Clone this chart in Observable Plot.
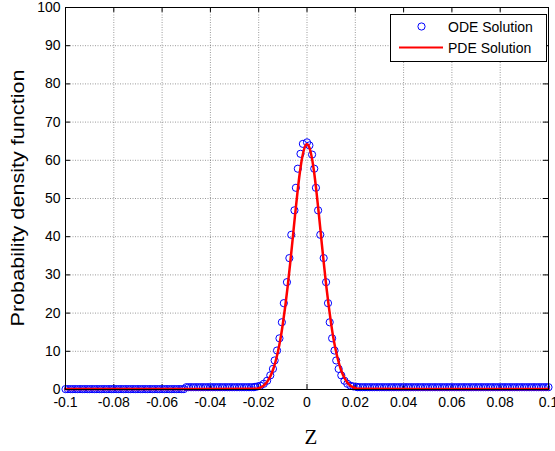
<!DOCTYPE html>
<html><head><meta charset="utf-8">
<script src="https://cdn.jsdelivr.net/npm/d3@7"></script>
<script src="https://cdn.jsdelivr.net/npm/@observablehq/plot@0.6"></script>
<style>body{margin:0;background:#fff} #chart{width:555px;height:451px}</style>
</head><body><div id="chart"></div>
<script>
// Tick values
const xTicks = [-0.1, -0.08, -0.06, -0.04, -0.02, 0, 0.02, 0.04, 0.06, 0.08, 0.1];
const yTicks = [0, 10, 20, 30, 40, 50, 60, 70, 80, 90, 100];

// ODE solution (circles): z positions and density values
const odeZ = [
  -0.100,-0.099,-0.098,-0.097,-0.096,-0.095,-0.094,-0.093,-0.092,-0.091,
  -0.090,-0.089,-0.088,-0.087,-0.086,-0.085,-0.084,-0.083,-0.082,-0.081,
  -0.080,-0.079,-0.078,-0.077,-0.076,-0.075,-0.074,-0.073,-0.072,-0.071,
  -0.070,-0.069,-0.068,-0.067,-0.066,-0.065,-0.064,-0.063,-0.062,-0.061,
  -0.060,-0.059,-0.058,-0.057,-0.056,-0.055,-0.054,-0.053,-0.052,-0.051,
  -0.050,-0.049,-0.048,-0.047,-0.046,-0.045,-0.044,-0.043,-0.042,-0.041,
  -0.040,-0.039,-0.038,-0.037,-0.036,-0.035,-0.034,-0.033,-0.032,-0.031,
  -0.030,-0.029,-0.028,-0.027,-0.026,-0.025,-0.024,-0.023,-0.022,
  -0.0215,-0.0205,-0.0193,-0.0179,-0.0165,-0.0152,-0.0141,-0.0134,-0.0124,-0.0114,
  -0.0104,-0.0096,-0.0083,-0.0073,-0.0065,-0.0052,-0.0046,-0.0038,-0.0027,-0.0017,
  0.0000,
  0.0010,0.0021,0.0030,0.0037,0.0046,0.0055,0.0069,0.0079,0.0087,0.0094,
  0.0104,0.0114,0.0121,0.0131,0.0142,0.0155,0.0167,0.0180,0.0192,0.0205,
  0.021,0.022,0.023,0.024,0.025,0.026,0.027,0.028,0.029,0.030,
  0.031,0.032,0.033,0.034,0.035,0.036,0.037,0.038,0.039,0.040,
  0.041,0.042,0.043,0.044,0.045,0.046,0.047,0.048,0.049,0.050,
  0.051,0.052,0.053,0.054,0.055,0.056,0.057,0.058,0.059,0.060,
  0.061,0.062,0.063,0.064,0.065,0.066,0.067,0.068,0.069,0.070,
  0.071,0.072,0.073,0.074,0.075,0.076,0.077,0.078,0.079,0.080,
  0.081,0.082,0.083,0.084,0.085,0.086,0.087,0.088,0.089,0.090,
  0.091,0.092,0.093,0.094,0.095,0.096,0.097,0.098,0.099,0.100
];
const odeY = [
  0.1,0.1,0.1,0.1,0.1,0.1,0.1,0.1,0.1,0.1,
  0.1,0.1,0.1,0.1,0.1,0.1,0.1,0.1,0.1,0.1,
  0.1,0.1,0.1,0.1,0.1,0.1,0.1,0.1,0.1,0.1,
  0.1,0.1,0.1,0.1,0.1,0.1,0.1,0.1,0.1,0.1,
  0.1,0.1,0.1,0.1,0.1,0.1,0.1,0.1,0.1,0.1,
  0.6,0.6,0.6,0.6,0.6,0.6,0.6,0.6,0.6,0.6,
  0.6,0.6,0.6,0.6,0.6,0.6,0.6,0.6,0.6,0.6,
  0.6,0.6,0.6,0.6,0.6,0.6,0.6,0.6,0.6,
  0.7,0.8,1.0,1.5,2.3,3.7,5.4,7.6,10.2,13.4,
  17.6,22.6,28.1,34.4,40.5,46.9,52.8,57.8,61.7,64.3,
  64.7,
  63.9,61.5,57.8,52.8,46.9,40.5,34.4,28.1,22.6,17.6,
  13.4,10.2,7.6,5.4,3.7,2.3,1.5,1.0,0.8,0.7,
  0.6,0.6,0.6,0.6,0.6,0.6,0.6,0.6,0.6,0.6,
  0.6,0.6,0.6,0.6,0.6,0.6,0.6,0.6,0.6,0.6,
  0.6,0.6,0.6,0.6,0.6,0.6,0.6,0.6,0.6,0.6,
  0.6,0.6,0.6,0.6,0.6,0.6,0.6,0.6,0.6,0.6,
  0.6,0.6,0.6,0.6,0.6,0.6,0.6,0.6,0.6,0.6,
  0.6,0.6,0.6,0.6,0.6,0.6,0.6,0.6,0.6,0.6,
  0.6,0.6,0.6,0.6,0.6,0.6,0.6,0.6,0.6,0.6,
  0.6,0.6,0.6,0.6,0.6,0.6,0.6,0.6,0.6,0.6
];

// PDE solution (line)
const pdeZ = [-0.1,-0.05,-0.022,-0.020,-0.019,-0.018,-0.017,-0.016,-0.015,-0.014,-0.013,-0.012,-0.011,-0.010,
  -0.009,-0.008,-0.007,-0.006,-0.005,-0.004,-0.003,-0.002,-0.001,0,
  0.001,0.002,0.003,0.004,0.005,0.006,0.007,0.008,0.009,0.010,0.011,0.012,0.013,0.014,0.015,0.016,
  0.017,0.018,0.019,0.020,0.022,0.05,0.1];
const pdeY = [0.15,0.15,0.2,0.35,0.6,1.0,1.6,2.5,3.7,5.3,7.4,10.0,13.2,17.2,
  21.8,27.0,32.8,39.0,45.3,51.3,56.6,60.7,63.3,64.2,
  63.3,60.7,56.6,51.3,45.3,39.0,32.8,27.0,21.8,17.2,13.2,10.0,7.4,5.3,3.7,2.5,
  1.6,1.0,0.6,0.35,0.2,0.15,0.15];

const seriesNames = ["ODE Solution", "PDE Solution"];
const xLabel = "Z";
const yLabel = "Probability density function";

const ode = odeZ.map((z, i) => ({z, y: odeY[i]}));
const pde = pdeZ.map((z, i) => ({z, y: pdeY[i]}));
const fmt = d => String(+d.toFixed(2));

const gridStyle = {stroke: "#000", strokeOpacity: 0.5, strokeDasharray: "1,1.5", strokeWidth: 0.8};

const chart = Plot.plot({
  width: 555, height: 451,
  marginLeft: 65, marginRight: 7, marginTop: 7, marginBottom: 62,
  style: {fontFamily: "'Liberation Sans', Arial, sans-serif", fontSize: "14px", background: "#fff", color: "#000", overflow: "visible"},
  x: {domain: [-0.1, 0.1]},
  y: {domain: [0, 100]},
  marks: [
    Plot.gridX(xTicks, gridStyle),
    Plot.gridY(yTicks, gridStyle),
    Plot.ruleX(xTicks, {x: d => d, y1: 0, y2: 1.3, stroke: "#000"}),
    Plot.ruleX(xTicks, {x: d => d, y1: 98.7, y2: 100, stroke: "#000"}),
    Plot.ruleY(yTicks, {y: d => d, x1: -0.1, x2: -0.0979, stroke: "#000"}),
    Plot.ruleY(yTicks, {y: d => d, x1: 0.0979, x2: 0.1, stroke: "#000"}),
    Plot.axisX(xTicks, {tickSize: 0, tickPadding: 8, tickFormat: fmt, label: null, fontSize: 14}),
    Plot.axisY(yTicks, {tickSize: 0, tickPadding: 5, label: null, fontSize: 14}),
    Plot.dot(ode, {x: "z", y: "y", r: 3.6, stroke: "#0000ff", strokeWidth: 1, fill: "none"}),
    Plot.line(pde, {x: "z", y: "y", stroke: "#ff0000", strokeWidth: 2.5, curve: "monotone-x"}),
    Plot.frame({stroke: "#000", strokeWidth: 1})
  ]
});
document.getElementById("chart").appendChild(chart);

const svg = d3.select(chart);
// Axis titles
svg.append("text").attr("x", 311).attr("y", 437)
  .attr("text-anchor", "middle").attr("dominant-baseline", "central")
  .attr("font-family", "'Liberation Serif', 'Times New Roman', serif").attr("font-size", 21)
  .attr("fill", "#000").text(xLabel);
svg.append("text").attr("transform", "translate(18,198) rotate(-90)")
  .attr("text-anchor", "middle").attr("dominant-baseline", "central")
  .attr("font-family", "'Liberation Sans', Arial, sans-serif").attr("font-size", 18)
  .attr("textLength", 257).attr("lengthAdjust", "spacingAndGlyphs")
  .attr("fill", "#000").text(yLabel);

// Legend
const lg = svg.append("g").attr("text-anchor", "start");
lg.append("rect").attr("x", 390.5).attr("y", 14.5).attr("width", 156).attr("height", 47)
  .attr("fill", "#fff").attr("stroke", "#000");
lg.append("circle").attr("cx", 421.5).attr("cy", 26.5).attr("r", 3.6)
  .attr("fill", "none").attr("stroke", "#0000ff");
lg.append("line").attr("x1", 399).attr("x2", 443).attr("y1", 47.5).attr("y2", 47.5)
  .attr("stroke", "#ff0000").attr("stroke-width", 2);
seriesNames.forEach((name, i) => {
  lg.append("text").attr("x", 448).attr("y", i === 0 ? 26.5 : 48)
    .attr("text-anchor", "start").attr("dominant-baseline", "central")
    .attr("font-family", "'Liberation Sans', Arial, sans-serif").attr("font-size", 14)
    .attr("fill", "#000").text(name);
});
</script>
</body></html>
